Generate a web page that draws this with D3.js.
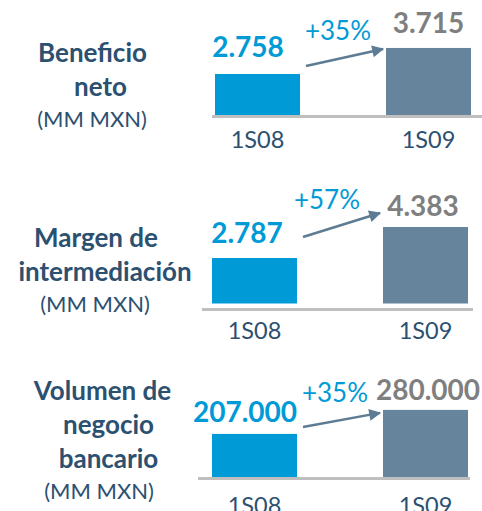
<!DOCTYPE html>
<html>
<head>
<meta charset="utf-8">
<title>Resultados 1S09</title>
<script src="https://d3js.org/d3.v7.min.js"></script>
<style>
body { margin: 0; background: #fff; }
svg text { font-family: Lato, "Open Sans", sans-serif; }
</style>
</head>
<body>
<div id="chart"></div>
<script>
// data
var periods = ["1S08", "1S09"];
var titles = [["Beneficio", "neto"], ["Margen de", "intermediación"], ["Volumen de", "negocio", "bancario"]];
var unitLabel = "(MM MXN)";
var values08 = [2758, 2787, 207000];
var values09 = [3715, 4383, 280000];
var growth = ["+35%", "+57%", "+35%"];
// each panel has its own (non-zero based) value axis
var axisMin = [1248, 444, 76000];
var axisMax = [4376, 4821, 334400];

// layout of each panel
var layout = [
  {base: 115,   lineY: 116.5, line: [212, 482], shift: 3, titleX: [92.5, 100.5, 92], titleY: 62,  catY: 148,   gap: [17, 15], labDx: [-9.5, 0],   arrowDy: [8, -1],  growthX: 338, growthY: 40},
  {base: 303.5, lineY: 309.5, line: [202, 473], shift: 0, titleX: [96, 105, 95],    titleY: 247, catY: 338.5, gap: [15, 11], labDx: [-7.5, -2.5], arrowDy: [21, 14], growthX: 327, growthY: 209},
  {base: 477,   lineY: 478.5, line: [198, 470], shift: 0, titleX: [102.5, 108.5, 99], titleY: 400, catY: 513.5, gap: [12, 10], labDx: [-9.5, 2.5], arrowDy: [7, -3],  growthX: 335, growthY: 402}
];

var W = 482, H = 511, barH = 85;
var blue = "#009ad6", slate = "#66849b", grey = "#7f7f7f", dark = "#2c5070", arrowCol = "#5d7c93";

var fmt = d3.formatLocale({decimal: ",", thousands: ".", grouping: [3], currency: ["", ""]}).format(",");

var svg = d3.select("#chart").append("svg")
    .attr("width", W)
    .attr("height", H);

svg.append("defs").append("marker")
    .attr("id", "head")
    .attr("viewBox", "0 0 10 10")
    .attr("refX", 9)
    .attr("refY", 5)
    .attr("markerUnits", "userSpaceOnUse")
    .attr("markerWidth", 14)
    .attr("markerHeight", 12)
    .attr("orient", "auto")
  .append("path")
    .attr("d", "M0,0 L10,5 L0,10 Z")
    .attr("fill", arrowCol);

titles.forEach(function(t, i) {
  var L = layout[i];
  var g = svg.append("g");

  var x = d3.scaleBand()
      .domain(periods)
      .range([212 + L.shift, 468 + L.shift])
      .paddingInner(0.503);

  var y = d3.scaleLinear()
      .domain([axisMin[i], axisMax[i]])
      .range([L.base, L.base - barH]);

  var vals = [values08[i], values09[i]];

  // baseline
  g.append("line")
      .attr("x1", L.line[0]).attr("x2", L.line[1])
      .attr("y1", L.lineY).attr("y2", L.lineY)
      .attr("stroke", "#bfbfbf")
      .attr("stroke-width", 3);

  // bars
  g.selectAll("rect")
    .data(vals)
    .enter().append("rect")
      .attr("x", (d, j) => x(periods[j]))
      .attr("y", d => y(d))
      .attr("width", x.bandwidth())
      .attr("height", d => L.base - y(d))
      .attr("fill", (d, j) => j == 0 ? blue : slate);

  // value labels
  g.selectAll(".val")
    .data(vals)
    .enter().append("text")
      .attr("class", "val")
      .attr("x", (d, j) => x(periods[j]) + x.bandwidth() / 2 + L.labDx[j])
      .attr("y", (d, j) => y(d) - L.gap[j])
      .attr("text-anchor", "middle")
      .attr("font-size", 28)
      .attr("font-weight", "bold")
      .attr("fill", (d, j) => j == 0 ? blue : grey)
      .text(d => fmt(d));

  // category labels
  g.selectAll(".cat")
    .data(periods)
    .enter().append("text")
      .attr("class", "cat")
      .attr("x", d => x(d) + x.bandwidth() / 2)
      .attr("y", L.catY)
      .attr("text-anchor", "middle")
      .attr("font-size", 23.5)
      .attr("fill", dark)
      .text(d => d);

  // growth arrow
  g.append("line")
      .attr("x1", x(periods[0]) + x.bandwidth() + 6)
      .attr("y1", y(vals[0]) - L.arrowDy[0])
      .attr("x2", x(periods[1]) - 3)
      .attr("y2", y(vals[1]) - L.arrowDy[1])
      .attr("stroke", arrowCol)
      .attr("stroke-width", 2.5)
      .attr("marker-end", "url(#head)");

  g.append("text")
      .attr("x", L.growthX)
      .attr("y", L.growthY)
      .attr("text-anchor", "middle")
      .attr("font-size", 26)
      .attr("fill", blue)
      .text(growth[i]);

  // title
  var tt = g.append("text")
      .attr("text-anchor", "middle")
      .attr("fill", dark);
  t.forEach(function(line, k) {
    tt.append("tspan")
        .attr("x", k == 0 ? L.titleX[0] : L.titleX[1])
        .attr("y", L.titleY + k * 34)
        .attr("font-size", 26)
        .attr("font-weight", "bold")
        .text(line);
  });
  tt.append("tspan")
      .attr("x", L.titleX[2])
      .attr("y", L.titleY + (t.length - 1) * 34 + 31)
      .attr("font-size", 22)
      .text(unitLabel);
});
</script>
</body>
</html>
